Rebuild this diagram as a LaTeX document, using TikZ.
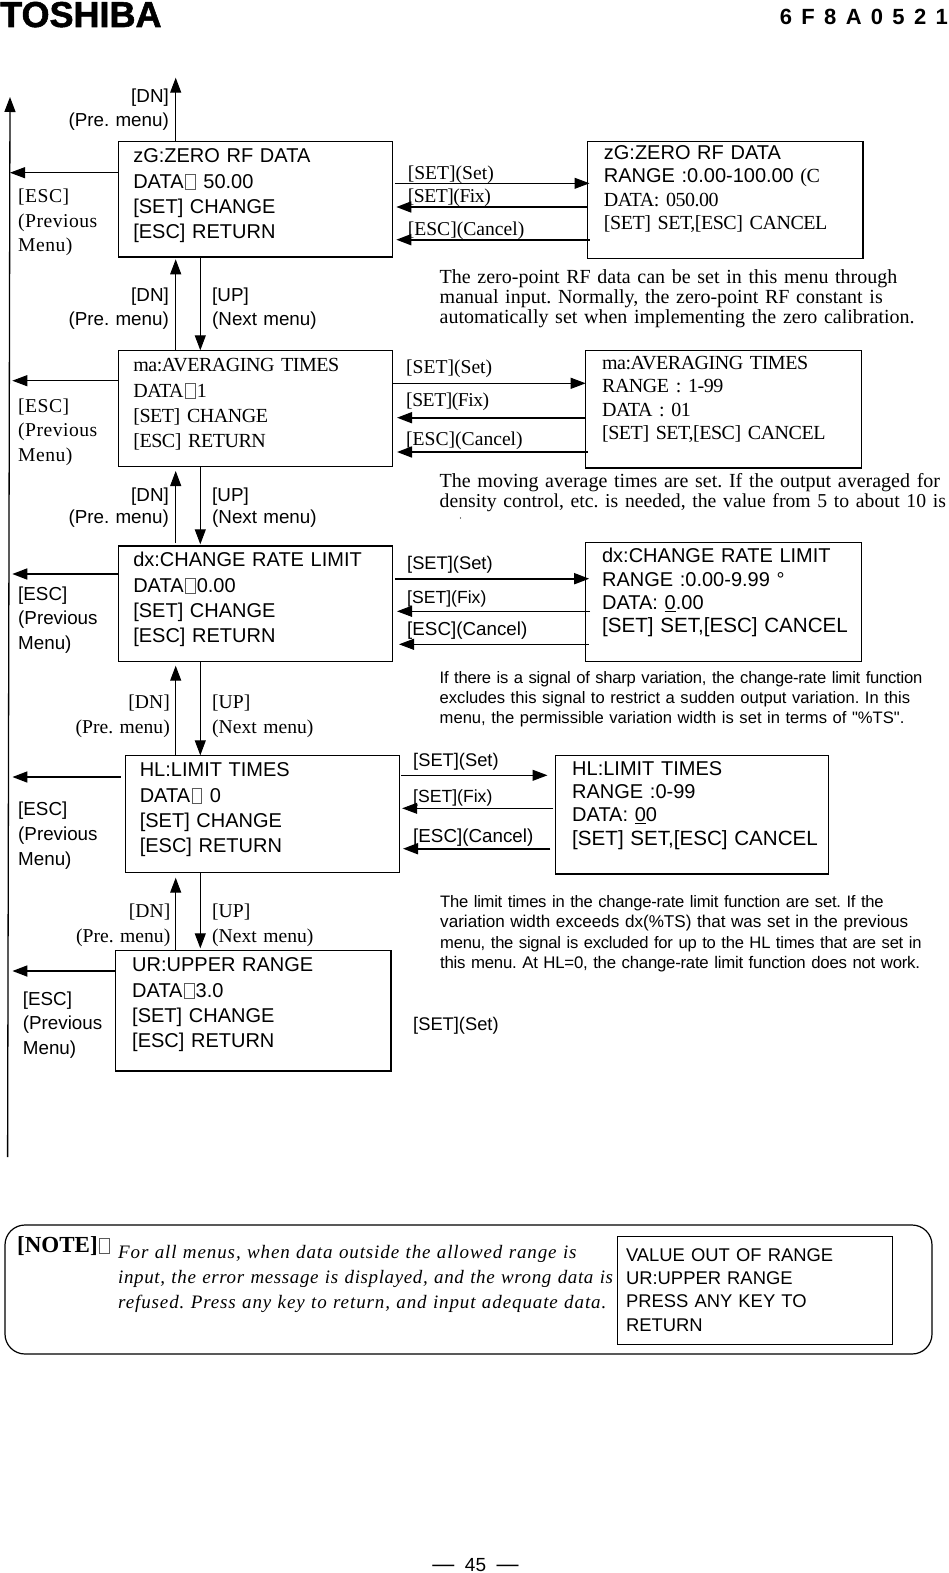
\documentclass[tikz,border=0pt]{standalone}
\usepackage{fontspec}
\usepackage{xcolor}
\usepackage{tikz}
\usetikzlibrary{arrows.meta, positioning}
\setmainfont{Liberation Serif}
\setsansfont{Liberation Sans}
\newfontfamily\tightrm[LetterSpace=-2.3,WordSpace=0.6]{Liberation Serif}
\newfontfamily\widerm[LetterSpace=2.5]{Liberation Serif}
\newfontfamily\tightsf[LetterSpace=-1.5]{Liberation Sans}
\newfontfamily\plainsf[Ligatures=TeXOff]{Liberation Sans}
\newfontfamily\wideit[LetterSpace=4.7]{Liberation Serif Italic}
\newfontfamily\noteit[LetterSpace=3.3]{Liberation Serif Italic}
\newfontfamily\logofont[FakeBold=1.5]{Liberation Sans Bold}
\definecolor{tofugray}{RGB}{90, 90, 90}
\newcommand{\tofu}{\kern1.5pt\raisebox{-1pt}{\setlength{\fboxsep}{0pt}\setlength{\fboxrule}{0.8pt}\textcolor{tofugray}{\fbox{\rule{0pt}{14.5pt}\rule{9pt}{0pt}}}}\kern1pt}
\newcommand{\lastline}[1]{\mbox{\fontsize{20.6}{23.4}\selectfont #1}}
\AtBeginDocument{\frenchspacing}

\begin{document}
\begin{tikzpicture}[
    x=1pt, y=-1pt,
    menu/.style={rectangle, draw, line width=1.2pt, outer sep=0pt, inner ysep=0pt, inner xsep=14.6pt, text width=244.8pt, align=left, anchor=north west},
    wide/.style={menu, inner xsep=16.4pt, text width=242.6pt},
    menusf/.style={font=\fontsize{20}{25.4}\selectfont\sffamily},
    menurm/.style={font=\fontsize{20}{25.4}\selectfont\tightrm},
    entrysf/.style={font=\fontsize{20}{23.4}\selectfont\sffamily},
    entryrm/.style={font=\fontsize{20}{23.5}\selectfont\tightrm},
    tag/.style={anchor=base west, inner sep=0pt, text width=130pt, align=left},
    tagsf/.style={tag, font=\fontsize{18.8}{24.7}\selectfont\sffamily},
    tagset/.style={tag, font=\fontsize{18.3}{24.7}\selectfont\sffamily},
    tagfix/.style={tag, font=\fontsize{17.6}{24.7}\selectfont\sffamily},
    tagrm/.style={tag, font=\fontsize{19.6}{24.6}\selectfont\rmfamily},
    tagtight/.style={tag, font=\fontsize{19.6}{24.6}\selectfont\tightrm},
    tagwide/.style={tag, font=\fontsize{19.6}{24.6}\selectfont\widerm},
    dnsf/.style={tagsf, anchor=base east, text width=110pt, align=right},
    dnrm/.style={tagrm, anchor=base east, text width=110pt, align=right},
    descrm/.style={tag, text width=509pt, font=\fontsize{20}{20}\selectfont\rmfamily},
    descsf/.style={tag, text width=505pt, font=\fontsize{16.6}{20.2}\selectfont\tightsf},
    arrow/.style={-{Triangle[length=15pt,width=11pt]}, line width=1pt},
    heavy/.style={arrow, line width=1.7pt}
]
\useasboundingbox (0,0) rectangle (949,1573);

% Page header and footer
\node[anchor=base west, inner sep=0pt, font=\fontsize{36}{36}\selectfont\logofont] (brand) at (0,27) {TOSHIBA};
\node[anchor=base east, inner sep=0pt, font=\fontsize{22}{22}\selectfont\sffamily\bfseries] (docno) at (948,25) {\spaceskip=9.3pt\relax 6 F 8 A 0 5 2 1};
\node[anchor=base, inner sep=0pt, font=\fontsize{22}{22}\selectfont\sffamily] (pageno) at (475.5,1571) {\spaceskip=10.5pt\relax — {\fontsize{19}{19}\selectfont 45} —};

% Menu blocks
\node[menu, menusf, text height=21.4pt, text depth=94.3pt] (zero) at (118.7,141.3) {zG:ZERO RF DATA\\DATA\tofu{} 50.00\\{[SET]} CHANGE\\{[ESC]} RETURN};
\node[menu, menurm, below=93.3pt of zero.south west, anchor=north west, text height=21.4pt, text depth=94.6pt] (avg) {ma:AVERAGING TIMES\\DATA\tofu{}1\\{[SET]} CHANGE\\{[ESC]} RETURN};
\node[menu, menusf, below=79.7pt of avg.south west, anchor=north west, text height=20.7pt, text depth=94.6pt] (rate) {dx:CHANGE RATE LIMIT\\DATA\tofu{}0.00\\{[SET]} CHANGE\\{[ESC]} RETURN};
\node[menu, menusf, below right=94pt and 6.6pt of rate.south west, anchor=north west, inner xsep=14.5pt, text width=245.2pt, text height=21.4pt, text depth=95.6pt] (limit) {HL:LIMIT TIMES\\DATA\tofu{} 0\\{[SET]} CHANGE\\{[ESC]} RETURN};
\node[menu, menusf, below left=78pt and 9.6pt of limit.south west, anchor=north west, inner xsep=16.5pt, text width=242.3pt, text height=21.4pt, text depth=99.3pt] (upper) {UR:UPPER RANGE\\DATA\tofu{}3.0\\{[SET]} CHANGE\\{[ESC]} RETURN};

% Entry blocks
\node[wide, entryrm, right=194.8pt of zero.north east, anchor=north west, text height=18pt, text depth=99pt] (zeroin) {{\sffamily zG:ZERO RF DATA}\\{\sffamily RANGE :0.00-100.{\tightsf 00}} (C\\DATA: 050.00\\{[SET]} SET,[ESC] CANCEL};
\node[wide, entryrm, right=193pt of avg.north east, anchor=north west, text height=19pt, text depth=98.7pt] (avgin) {ma:AVERAGING TIMES\\RANGE : 1-99\\DATA : 01\\{[SET]} SET,[ESC] CANCEL};
\node[wide, entrysf, above right=3.7pt and 193pt of rate.north east, anchor=north west, text height=20.4pt, text depth=98.6pt] (ratein) {dx:CHANGE RATE LIMIT\\RANGE :0.00-9.99 °\\DATA: \underline{0}.00\\\lastline{[SET] SET,[ESC] CANCEL}};
\node[wide, entrysf, right=156.3pt of limit.north east, anchor=north west, text width=239.7pt, text height=19.7pt, text depth=99pt] (limitin) {HL:LIMIT TIMES\\RANGE :0-99\\DATA: \underline{0}0\\\lastline{[SET] SET,[ESC] CANCEL}};

% Return line
\coordinate (esctop) at (10,97);
\coordinate (escbot) at (7.6,1157);
\draw[arrow, line width=1.3pt] (escbot) -- (esctop);

% Esc arrows
\coordinate (zeroesc) at (10,172.7);
\coordinate (avgesc) at (12.3,380.7);
\coordinate (rateesc) at (12.3,574);
\coordinate (limitesc) at (12.4,777);
\coordinate (upperesc) at (12.4,971);
\draw[arrow] (zeroesc -| zero.west) -- (zeroesc);
\draw[arrow] (avgesc -| avg.west) -- (avgesc);
\draw[heavy] (rateesc -| rate.west) -- (rateesc);
\draw[heavy, shorten <=4.4pt] (limitesc -| limit.west) -- (limitesc);
\draw[heavy] (upperesc -| upper.west) -- (upperesc);

% Up and down arrows
\coordinate (dncol) at (175.7,0);
\coordinate (upcol) at (200.3,0);
\coordinate (toptip) at (175.7,77.7);
\draw[arrow] (toptip |- zero.north) -- (toptip);
\draw[arrow, shorten >=2.3pt] (dncol |- avg.north) -- (dncol |- zero.south);
\draw[arrow] (upcol |- zero.south) -- (upcol |- avg.north);
\draw[arrow, shorten <=3pt, shorten >=4.7pt] (dncol |- rate.north) -- (dncol |- avg.south);
\draw[arrow, shorten >=1.7pt] (upcol |- avg.south) -- (upcol |- rate.north);
\draw[arrow, shorten >=4.4pt] (dncol |- limit.north) -- (dncol |- rate.south);
\draw[arrow] (upcol |- rate.south) -- (upcol |- limit.north);
\draw[arrow, shorten >=5.4pt] (dncol |- upper.north) -- (dncol |- limit.south);
\draw[arrow, shorten >=2pt] (upcol |- limit.south) -- (upcol |- upper.north);

% Set, fix and cancel arrows
\coordinate (zeroset) at (394.9,183.3);
\coordinate (zerofix) at (396.3,207);
\coordinate (zerocan) at (396.3,239.7);
\draw[arrow, shorten >=-2pt] (zeroset) -- (zeroset -| zeroin.west);
\draw[heavy] (zerofix -| zeroin.west) -- (zerofix);
\draw[heavy, shorten <=-2pt] (zerocan -| zeroin.west) -- (zerocan);
\coordinate (avgset) at (393.4,383.3);
\coordinate (avgfix) at (397,417.7);
\coordinate (avgcan) at (397,452);
\draw[arrow] (avgset) -- (avgset -| avgin.west);
\draw[heavy] (avgfix -| avgin.west) -- (avgfix);
\draw[heavy, shorten <=-2pt] (avgcan -| avgin.west) -- (avgcan);
\coordinate (rateset) at (394.9,578.7);
\coordinate (ratefix) at (397,611.3);
\coordinate (ratecan) at (399,644.3);
\draw[heavy, shorten >=-3.5pt] (rateset) -- (rateset -| ratein.west);
\draw[arrow, shorten <=-4.5pt] (ratefix -| ratein.west) -- (ratefix);
\draw[arrow, shorten <=-3pt] (ratecan -| ratein.west) -- (ratecan);
\coordinate (limitset) at (401.2,775.3);
\coordinate (limitfix) at (402.2,808.3);
\coordinate (limitcan) at (403,848.7);
\draw[arrow, shorten >=8.3pt] (limitset) -- (limitset -| limitin.west);
\draw[arrow, shorten <=2.5pt] (limitfix -| limitin.west) -- (limitfix);
\draw[heavy, shorten <=5.5pt] (limitcan -| limitin.west) -- (limitcan);

% Key labels, left side
\node[dnsf] (dntop) at (169,102.7) {[DN]\\[-0.7pt](Pre. menu)};
\node[tagwide] (esczero) at (18,202.7) {[ESC]\\(Previous\\Menu)};
\node[dnsf] (dnzero) at (169,301.7) {[DN]\\[-1.4pt](Pre. menu)};
\node[tagsf] (upzero) at (212,301.7) {[UP]\\[-1.4pt](Next menu)};
\node[tagwide] (escavg) at (18,412) {[ESC]\\(Previous\\Menu)};
\node[dnsf] (dnavg) at (169,501) {[DN]\\[-2.7pt](Pre. menu)};
\node[tagsf] (upavg) at (212,501) {[UP]\\[-2.7pt](Next menu)};
\node[tagsf] (escrate) at (18,600) {[ESC]\\(Previous\\Menu)};
\node[dnrm] (dnrate) at (170,708.3) {[DN]\\[0.4pt](Pre. menu)};
\node[tagrm] (uprate) at (212,708.3) {[UP]\\[0.4pt](Next menu)};
\node[tagsf] (esclimit) at (18,815.7) {[ESC]\\(Previous\\Menu)};
\node[dnrm] (dnlimit) at (170.5,917.7) {[DN]\\[0pt](Pre. menu)};
\node[tagrm] (uplimit) at (212,917.7) {[UP]\\[0pt](Next menu)};
\node[tagsf] (escupper) at (22.7,1005) {[ESC]\\(Previous\\Menu)};

% Key labels, right side
\node[tagrm] (setzero) at (407.6,179) {[SET](Set)};
\node[tagtight] (fixzero) at (407.6,202.7) {[SET](Fix)};
\node[tagrm] (canzero) at (407.6,235) {[ESC](Cancel)};
\node[tagrm] (setavg) at (406,373.3) {[SET](Set)};
\node[tagtight] (fixavg) at (406,406) {[SET](Fix)};
\node[tagrm] (canavg) at (406,445) {[ESC](Cancel)};
\node[tagset] (setrate) at (407,569) {[SET](Set)};
\node[tagfix] (fixrate) at (407,603.3) {[SET](Fix)};
\node[tagsf] (canrate) at (407,635) {[ESC](Cancel)};
\node[tagset] (setlimit) at (413,766.7) {[SET](Set)};
\node[tagfix] (fixlimit) at (413,802.7) {[SET](Fix)};
\node[tagsf] (canlimit) at (413,842.3) {[ESC](Cancel)};
\node[tagset] (setupper) at (413,1030.7) {[SET](Set)};

% Descriptions
\node[descrm] (desczero) at (439.5,283.3) {The zero-point RF data can be set in this menu through\\manual input. Normally, the zero-point RF constant is\\automatically set when implementing the zero calibration.};
\node[descrm] (descavg) at (439.5,487.3) {The moving average times are set. If the output averaged for\\{\fontsize{19.7}{20}\selectfont density control, etc. is needed, the value from 5 to about 10 is}};
\fill (460.5,518) circle (0.6);
\node[descsf] (descrate) at (439.5,683.3) {If there is a signal of sharp variation, the change-rate limit function\\{\sffamily excludes this signal to restrict a sudden output variation. In this}\\{\plainsf menu, the permissible variation width is set in terms of "\%TS".}};
\node[descsf] (desclimit) at (440,907.7) {The limit times in the change-rate limit function are set. If the\\{\fontsize{17.1}{20.2}\selectfont\sffamily variation width exceeds dx(\%TS) that was set in the previous}\\menu, the signal is excluded for up to the HL times that are set in\\{\fontsize{16.8}{20.2}\selectfont this menu. At HL=0, the change-rate limit function does not work.}};

% Note
\node[rectangle, draw, line width=1.2pt, rounded corners=20pt, outer sep=0pt, anchor=north west, minimum width=927pt, minimum height=129pt] (note) at (5,1225) {};
\node[anchor=base west, inner sep=0pt, font=\fontsize{23}{23}\selectfont\rmfamily\bfseries] (notehead) at (17,1252.3) {[NOTE]\tofu};
\node[tag, text width=499pt, font=\fontsize{19}{25}\selectfont\wideit] (notetext) at (118,1258) {For all menus, when data outside the allowed range is\\{\noteit input, the error message is displayed, and the wrong data is}\\refused. Press any key to return, and input adequate data.};
\node[menu, line width=1pt, inner xsep=8.6pt, text width=258.3pt, text height=24.7pt, text depth=83.3pt, font=\fontsize{18.4}{23.4}\selectfont\sffamily] (errbox) at (617.4,1236.3) {VALUE OUT OF RANGE\\UR:UPPER RANGE\\PRESS ANY KEY TO\\RETURN};
\end{tikzpicture}
\end{document}
